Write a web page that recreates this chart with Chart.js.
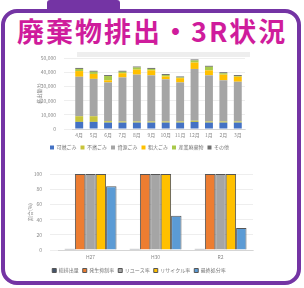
<!DOCTYPE html>
<html>
<head>
<meta charset="utf-8">
<script src="https://cdn.jsdelivr.net/npm/chart.js@4"></script>
<style>
  body { margin: 0; width: 304px; height: 288px; background: #fff; position: relative; overflow: hidden; font-family: "Noto Sans CJK JP", sans-serif; }
  #tab { position: absolute; left: 47px; top: 0; width: 73px; height: 10px; background: #7434a4; border-radius: 3px 3px 0 0; }
  #frame { position: absolute; left: 1px; top: 9px; width: 292px; height: 268px; border: 4px solid #7434a4; border-radius: 16px; background: #fff; }
  #title { position: absolute; left: 17px; top: 14px; font-size: 27px; font-weight: 700; color: #cf1c9c; letter-spacing: 2px; white-space: nowrap; line-height: 34px; }
  #band { position: absolute; left: 77px; top: 52px; width: 173px; height: 5px; background: #eeeeee; }
  canvas { position: absolute; }
  #top { left: 20px; top: 47px; }
  #bottom { left: 20px; top: 163px; }
</style>
</head>
<body>
<div id="tab"></div>
<div id="frame"></div>
<div id="title">廃棄物排出・3R状況</div>
<div id="band"></div>
<canvas id="top" width="245" height="114"></canvas>
<canvas id="bottom" width="245" height="122"></canvas>
<script>
// top chart: monthly waste by type (t)
const months = ["4月", "5月", "6月", "7月", "8月", "9月", "10月", "11月", "12月", "1月", "2月", "3月"];
const wasteNames = ["可燃ごみ", "不燃ごみ", "資源ごみ", "粗大ごみ", "産業廃棄物", "その他"];
const burnable = [5000, 5000, 4500, 4500, 4500, 4500, 4500, 4500, 5000, 4500, 4500, 4500];
const nonBurnable = [4000, 4000, 1000, 800, 800, 800, 800, 800, 800, 800, 800, 800];
const recyclable = [27800, 26300, 27300, 31000, 33000, 32500, 29700, 27500, 36500, 32500, 29000, 28000];
const bulky = [4000, 3500, 1500, 3000, 3500, 3500, 2000, 3000, 4500, 3500, 4000, 3500];
const industrial = [1500, 1500, 3000, 1000, 1500, 1000, 1000, 500, 1500, 2500, 1000, 500];
const others = [700, 700, 700, 700, 700, 700, 700, 700, 700, 700, 700, 700];
const wasteColors = ["#4472c4", "#c8c43a", "#a5a5a5", "#ffc000", "#a9c94a", "#6f6f6f"];

// bottom chart: 3R rates (%)
const years = ["H27", "H30", "R2"];
const rateNames = ["総排出量", "発生抑制率", "リユース率", "リサイクル率", "最終処分率"];
const rateA = [1.5, 1.5, 1.5];
const rateB = [100, 100, 100];
const rateC = [100, 100, 100];
const rateD = [100, 100, 100];
const rateE = [84, 45, 29];
const rateColors = ["#44546a", "#ed7d31", "#a5a5a5", "#ffc000", "#5b9bd5"];

const tiny = { family: "'Noto Sans CJK JP', sans-serif", size: 5 };
const legendLabels = { font: tiny, color: "#777", boxWidth: 4, boxHeight: 4, padding: 4 };

const wasteSeries = [burnable, nonBurnable, recyclable, bulky, industrial, others];
new Chart(document.getElementById("top"), {
	type: "bar",
	data: {
		labels: months,
		datasets: wasteSeries.map((d, i) => ({
			label: wasteNames[i],
			data: d,
			backgroundColor: wasteColors[i],
			barPercentage: 0.55,
			categoryPercentage: 1,
		})),
	},
	options: {
		responsive: false,
		animation: false,
		layout: { padding: { left: 14, right: 20, top: 4, bottom: 1 } },
		plugins: {
			legend: { position: "bottom", labels: legendLabels },
			tooltip: { enabled: false },
		},
		scales: {
			x: {
				stacked: true,
				grid: { display: false, drawTicks: false },
				ticks: { font: tiny, color: "#888", padding: 3, maxRotation: 0, minRotation: 0, autoSkip: false },
			},
			y: {
				stacked: true,
				min: 0,
				max: 50000,
				afterFit: (s) => { s.width = 38; },
				ticks: { stepSize: 10000, font: tiny, color: "#888", padding: 8 },
				grid: { color: "#eeeeee" },
				border: { display: false },
				title: { display: true, text: "排出量(t)", font: tiny, color: "#888", padding: 2 },
			},
		},
	},
});

const rateSeries = [rateA, rateB, rateC, rateD, rateE];
new Chart(document.getElementById("bottom"), {
	type: "bar",
	data: {
		labels: years,
		datasets: rateSeries.map((d, i) => ({
			label: rateNames[i],
			data: d,
			backgroundColor: rateColors[i],
			borderColor: "#555",
			borderWidth: 1,
			barPercentage: 1,
			categoryPercentage: 0.8,
		})),
	},
	options: {
		responsive: false,
		animation: false,
		layout: { padding: { left: 5, right: 12, top: 6, bottom: 2 } },
		plugins: {
			legend: { position: "bottom", labels: legendLabels },
			tooltip: { enabled: false },
		},
		scales: {
			x: {
				grid: { display: false, drawTicks: false },
				ticks: { font: tiny, color: "#888", padding: 4, maxRotation: 0 },
			},
			y: {
				min: 0,
				max: 100,
				afterFit: (s) => { s.width = 33; },
				ticks: { stepSize: 20, font: tiny, color: "#888", padding: 8 },
				grid: { color: "#eeeeee" },
				border: { display: false },
				title: { display: true, text: "割合(%)", font: tiny, color: "#888", padding: 2 },
			},
		},
	},
});
</script>
</body>
</html>
